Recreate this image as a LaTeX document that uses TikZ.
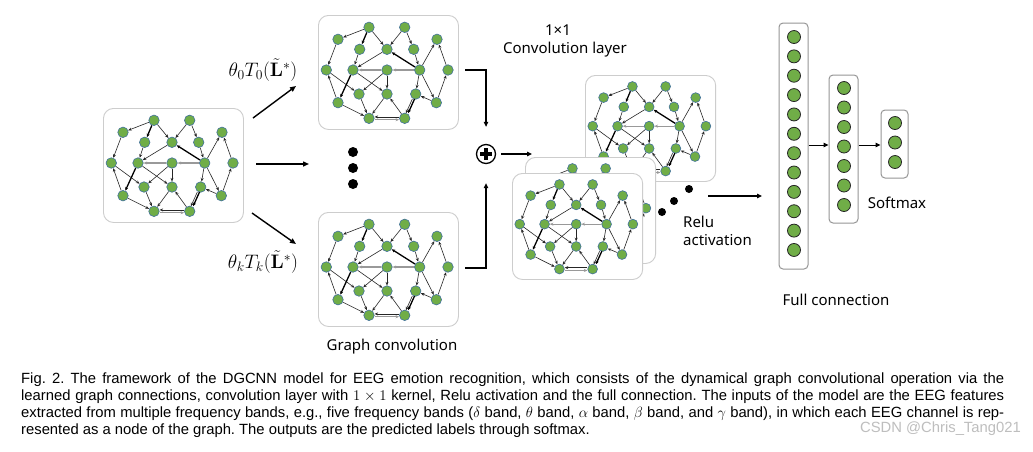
\RequirePackage{fix-cm}
\documentclass[tikz,border=0pt]{standalone}
\usepackage[no-math]{fontspec}
\setmainfont{Liberation Sans}
\newfontfamily\lblfont{Noto Sans}
\usetikzlibrary{arrows.meta}
\definecolor{ngreen}{RGB}{112,173,71}
\definecolor{nedge}{RGB}{65,113,156}
\definecolor{boxline}{RGB}{205,205,205}
\definecolor{fcline}{RGB}{150,150,150}
\definecolor{wmark}{RGB}{190,190,190}
\tikzset{
  gbox/.style={draw=boxline, line width=0.9pt, fill=white, rounded corners=10pt, inner sep=0pt},
  gnode/.style={circle, fill=ngreen, draw=nedge, line width=0.6pt, inner sep=0pt},
  gedge/.style={-{Stealth[length=3.6pt,width=3pt]}, line width=0.6pt, draw=black!85},
  gthick/.style={gedge, line width=1.3pt, draw=black},
  ggray/.style={gedge, line width=1.1pt, draw=black!40},
  flow/.style={-{Triangle[length=6pt,width=5pt]}, line width=1.4pt},
  flowthin/.style={-{Triangle[length=5pt,width=4.5pt]}, line width=1.1pt},
  fcbox/.style={draw=fcline, line width=1pt, rounded corners=4pt, fill=white, inner sep=0pt},
  fcnode/.style={circle, fill=ngreen, draw=black!85, line width=0.8pt, minimum size=13pt, inner sep=0pt},
  dot/.style={circle, fill=black, inner sep=0pt},
  lbl/.style={font=\lblfont\fontsize{15}{18}\selectfont, inner sep=0pt},
}
\newcommand\eeggraph[5]{%
 \begin{scope}[shift={(#2,#3)}]
  \node[gbox, anchor=north west, minimum width={#4*140pt}, minimum height={#4*114pt}] (#1box) at (0,0) {};
  \begin{scope}[scale=#4]
   \foreach \i/\px/\py in {1/51/12.3, 2/86.7/12.3, 3/20/24.3, 4/119/24.3, 5/41.7/34.3, 6/69/34.3, 7/95.7/34.3, 8/8.3/55, 9/35/55, 10/69/55, 11/101.7/55, 12/130/55, 13/41/79, 14/69/79, 15/97.7/79, 16/20/87.7, 17/118.3/87.7, 18/51/103.3, 19/86.7/103.3}
     \node[gnode, minimum size=#5] (#1n\i) at (\px,\py) {};
  \end{scope}
  \foreach \a/\b in {1/3,1/6,2/6,2/7,3/8,5/9,6/9,7/11,16/8,8/13,9/14,10/13,10/14,16/18,13/18,14/18,19/14,11/15,17/15,11/17,11/4,12/4,17/12}
     \draw[gedge] (#1n\a) -- (#1n\b);
  \draw[ggray] (#1n10) -- (#1n9);
  \draw[ggray] (#1n11) -- (#1n10);
  \draw[gthick] (#1n1) -- (#1n5);
  \draw[gthick] (#1n9) -- (#1n16);
  \draw[gthick] (#1n11) -- (#1n6);
  \draw[ggray, transform canvas={yshift=-1.4pt}] (#1n18) -- (#1n19);
  \draw[gedge, transform canvas={yshift=1.4pt}] (#1n19) -- (#1n18);
  \draw[gthick, transform canvas={xshift=1.1pt}] (#1n15) -- (#1n19);
  \draw[gedge, transform canvas={xshift=-1.1pt}] (#1n15) -- (#1n19);
 \end{scope}}
\begin{document}
\begin{tikzpicture}[x=1pt,y=-1pt]
\fill[white] (0,0) rectangle (1033,451);
\useasboundingbox (0,0) rectangle (1033,451);
\eeggraph{L}{103}{108}{1}{10.5pt}
\eeggraph{T}{318}{15}{1}{10.5pt}
\eeggraph{B}{318}{212}{1}{10.5pt}
\eeggraph{S}{585}{75}{0.93}{9.8pt}
\eeggraph{M}{525}{157}{0.93}{9.8pt}
\eeggraph{F}{512}{173}{0.93}{9.8pt}
% arrows from input graph
\coordinate (a0s) at (253,118); \coordinate (a0e) at (296,86);
\coordinate (a1s) at (256,164); \coordinate (a1e) at (309,164);
\coordinate (a2s) at (252,213); \coordinate (a2e) at (296,244);
\draw[flow] (a0s) -- (a0e);
\draw[flow] (a1s) -- (a1e);
\draw[flow] (a2s) -- (a2e);
\node[font=\fontsize{19.5}{22}\selectfont, inner sep=0pt] (lab0) at (263,70) {$\theta_0T_0(\tilde{\mathbf{L}}^*)$};
\node[font=\fontsize{19.5}{22}\selectfont, inner sep=0pt] (labk) at (263,262) {$\theta_kT_k(\tilde{\mathbf{L}}^*)$};
% vertical dots
\node[dot, minimum size=10pt] (d1) at (353,152) {};
\node[dot, minimum size=10pt] (d2) at (353,168) {};
\node[dot, minimum size=10pt] (d3) at (353,184) {};
% plus
\node[circle, draw, line width=1.3pt, minimum size=19pt, inner sep=0pt, fill=white] (plus) at (486,154) {};
\draw[line width=3.2pt] ([xshift=-6pt]plus.center) -- ([xshift=6pt]plus.center);
\draw[line width=3.2pt] ([yshift=-6pt]plus.center) -- ([yshift=6pt]plus.center);
\coordinate (tc) at (465,70);
\coordinate (bc) at (465,268);
\draw[flowthin] (tc) -| ([yshift=17pt]plus.north);
\draw[flowthin] (bc) -| ([yshift=-19pt]plus.south);
\coordinate (pe) at (532,154);
\draw[flowthin] ([xshift=5pt]plus.east) -- (pe);
\node[lbl] (k11) at (558,30) {1×1};
\node[lbl] (convl) at (565,50) {Convolution layer};
% dots after stack
\node[dot, minimum size=8pt] (e1) at (689,189) {};
\node[dot, minimum size=8pt] (e2) at (674,201) {};
\node[dot, minimum size=8pt] (e3) at (662,212) {};
\node[lbl, align=left, anchor=west] (relu) at (683,231) {Relu\\activation};
\coordinate (fs) at (708,196); \coordinate (fe) at (762,196);
\draw[flowthin] (fs) -- (fe);
% full connection
\node[fcbox, minimum width=29pt, minimum height=246pt] (fc1) at (793.5,146) {};
\foreach \k in {0,...,11} \node[fcnode] (fa\k) at (794,37+\k*19.36) {};
\node[fcbox, minimum width=29pt, minimum height=148pt] (fc2) at (843.5,149) {};
\foreach \k in {0,...,6} \node[fcnode] (fb\k) at (844,88+\k*19.5) {};
\node[fcbox, minimum width=27pt, minimum height=68pt] (fc3) at (894.5,144) {};
\foreach \k in {0,...,2} \node[fcnode] (fcc\k) at (895,123+\k*19.5) {};
\draw[-{Triangle[length=5pt,width=4.5pt]}, line width=1pt] (fc1.east |- 0,145) -- (fc2.west |- 0,145);
\draw[-{Triangle[length=5pt,width=4.5pt]}, line width=1pt] (fc2.east |- 0,145) -- (fc3.west |- 0,145);
\node[lbl] (soft) at (897,203) {Softmax};
\node[lbl] (fullc) at (836,300) {Full connection};
\node[lbl] (gconv) at (392,347) {Graph convolution};
% caption
\node[anchor=north west, inner sep=0pt, text width=983pt, align=justify, font=\fontsize{14.8}{16.7}\selectfont\frenchspacing] (cap) at (21,373) {Fig.\ 2. The framework of the DGCNN model for EEG emotion recognition, which consists of the dynamical graph convolutional operation via the\linebreak
learned graph connections, convolution layer with $1\times 1$ kernel, Relu activation and the full connection. The inputs of the model are the EEG features\linebreak
extracted from multiple frequency bands, e.g., five frequency bands ($\delta$ band, $\theta$ band, $\alpha$ band, $\beta$ band, and $\gamma$ band), in which each EEG channel is rep-\linebreak
resented as a node of the graph. The outputs are the predicted labels through softmax.};
\node[anchor=east, inner sep=0pt, font=\fontsize{14.8}{16}\selectfont, text=wmark] (wm) at (1021,429) {CSDN @Chris\_Tang021};
\end{tikzpicture}
\end{document}
